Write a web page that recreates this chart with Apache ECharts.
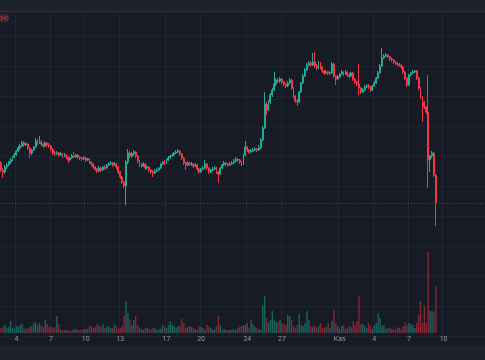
<!DOCTYPE html>
<html>
<head>
<meta charset="utf-8">
<style>
html,body{margin:0;padding:0;background:#171b26;}
#c{width:485px;height:360px;}
</style>
<script src="https://cdn.jsdelivr.net/npm/echarts/dist/echarts.min.js"></script>
</head>
<body>
<div id="c"></div>
<script>
// 4h candles, first candle opens 2022-10-02 16:00
const startTime = Date.UTC(2022, 9, 2, 16);
const slotCount = 252;
const firstOpen = 1292;
const closes = [
1264,1256,1276,1284,1296,1304,1316,1324,1340,1352,
1360,1372,1364,1368,1352,1332,1344,1356,1380,1372,
1376,1368,1360,1372,1364,1360,1348,1332,1328,1332,
1324,1328,1320,1324,1316,1304,1312,1320,1316,1324,
1316,1312,1308,1312,1304,1308,1296,1288,1276,1268,
1260,1272,1264,1276,1272,1284,1288,1292,1284,1288,
1276,1256,1236,1216,1200,1296,1332,1320,1328,1336,
1320,1300,1284,1280,1288,1272,1276,1264,1256,1252,
1260,1264,1272,1288,1296,1292,1304,1312,1320,1324,
1332,1336,1340,1328,1312,1292,1284,1292,1288,1288,
1280,1284,1268,1256,1268,1272,1288,1272,1256,1264,
1268,1272,1256,1248,1272,1284,1292,1288,1284,1288,
1292,1300,1308,1304,1296,1288,1324,1356,1344,1336,
1340,1344,1348,1344,1352,1384,1432,1528,1504,1536,
1564,1584,1608,1624,1620,1628,1616,1608,1600,1612,
1624,1592,1560,1540,1536,1576,1612,1640,1664,1684,
1692,1684,1696,1680,1672,1692,1676,1660,1652,1656,
1652,1652,1688,1640,1628,1636,1648,1656,1648,1656,
1644,1640,1652,1628,1616,1608,1592,1576,1584,1596,
1600,1596,1584,1600,1612,1632,1652,1680,1712,1720,
1724,1716,1708,1704,1696,1692,1688,1684,1676,1656,
1632,1604,1644,1652,1656,1660,1632,1592,1556,1536,
1516,1496,1304,1320,1332,1244,1132
];
const highs = [
1300,1272,1284,1292,1300,1312,1320,1332,1344,1360,
1368,1380,1380,1376,1372,1356,1348,1360,1392,1388,
1400,1384,1372,1380,1376,1372,1364,1352,1340,1340,
1336,1336,1332,1332,1328,1320,1316,1328,1336,1328,
1328,1320,1316,1320,1316,1312,1312,1300,1292,1280,
1272,1280,1276,1280,1284,1288,1296,1300,1296,1296,
1292,1280,1260,1240,1220,1304,1348,1340,1336,1344,
1340,1324,1304,1292,1296,1292,1284,1280,1268,1264,
1268,1272,1276,1292,1300,1304,1308,1320,1324,1332,
1336,1344,1348,1344,1332,1316,1296,1300,1296,1296,
1292,1292,1288,1272,1272,1280,1304,1292,1276,1268,
1276,1280,1276,1260,1276,1288,1300,1296,1292,1296,
1300,1308,1316,1312,1308,1300,1328,1380,1360,1348,
1348,1352,1356,1352,1364,1392,1440,1576,1536,1544,
1572,1592,1656,1632,1632,1636,1632,1620,1612,1620,
1632,1628,1596,1564,1548,1580,1616,1648,1672,1692,
1700,1700,1732,1736,1688,1700,1696,1680,1664,1664,
1660,1660,1696,1692,1644,1644,1652,1664,1660,1664,
1660,1652,1656,1656,1632,1620,1688,1596,1592,1604,
1608,1608,1600,1604,1620,1636,1660,1688,1752,1728,
1732,1728,1720,1712,1708,1700,1696,1692,1688,1680,
1660,1636,1648,1656,1664,1664,1664,1636,1596,1560,
1540,1520,1644,1324,1340,1336,1248
];
const lows = [
1256,1232,1248,1268,1280,1288,1300,1312,1320,1336,
1344,1356,1356,1360,1344,1312,1324,1340,1352,1364,
1368,1360,1352,1356,1356,1352,1340,1324,1320,1324,
1316,1320,1312,1316,1308,1292,1300,1308,1312,1312,
1308,1304,1300,1304,1296,1300,1288,1280,1268,1260,
1252,1256,1256,1260,1264,1268,1280,1284,1276,1280,
1268,1248,1228,1208,1192,1124,1288,1312,1312,1320,
1312,1292,1276,1272,1276,1264,1268,1256,1248,1236,
1248,1256,1260,1268,1284,1284,1288,1300,1308,1316,
1320,1328,1332,1320,1304,1284,1264,1280,1280,1280,
1272,1276,1260,1248,1252,1264,1268,1264,1248,1252,
1260,1264,1248,1212,1244,1268,1280,1280,1276,1280,
1284,1288,1296,1296,1288,1280,1284,1320,1336,1328,
1332,1336,1340,1336,1340,1348,1380,1428,1484,1500,
1528,1556,1580,1600,1612,1612,1608,1600,1592,1596,
1608,1584,1552,1532,1520,1532,1572,1608,1636,1660,
1680,1676,1680,1672,1664,1668,1668,1652,1644,1648,
1644,1644,1648,1632,1604,1624,1632,1644,1640,1644,
1636,1632,1636,1620,1608,1600,1564,1568,1572,1580,
1592,1588,1576,1580,1596,1608,1628,1648,1676,1708,
1716,1712,1700,1696,1688,1684,1680,1676,1668,1648,
1624,1596,1600,1640,1648,1652,1624,1584,1548,1456,
1508,1488,1192,1256,1312,1236,1040
];
const volumes = [
5,6,8,5,6,12,5,4,7,6,
8,9,5,4,5,6,7,10,11,8,
10,7,6,13,9,6,7,5,6,17,
9,3,3,3,3,3,2,3,4,4,
3,3,3,4,4,4,7,7,5,6,
9,7,6,9,5,6,7,5,5,9,
6,4,5,7,17,32,20,13,8,13,
17,8,5,4,3,5,5,4,4,5,
5,3,4,4,8,6,5,8,12,8,
7,5,7,7,14,10,5,6,7,6,
5,4,3,7,6,5,3,8,6,5,
3,4,7,17,8,3,4,3,3,3,
3,4,3,5,6,7,8,8,10,5,
13,9,6,5,4,3,27,37,15,10,
13,22,13,11,11,13,10,9,8,18,
17,13,7,5,8,19,8,7,10,22,
13,7,6,7,5,7,10,5,5,6,
10,5,12,23,10,7,4,7,8,4,
5,7,6,12,8,12,37,9,9,7,
5,10,7,4,8,10,20,15,7,8,
4,5,5,4,4,3,6,5,4,7,
11,8,10,9,8,5,10,18,32,10,
27,10,81,22,22,21,47
];
const tickDates = ['2022-10-04','2022-10-07','2022-10-10','2022-10-13','2022-10-17','2022-10-20','2022-10-24','2022-10-27','2022-11-01','2022-11-04','2022-11-07','2022-11-10'];
const tickLabels = ['4','7','10','13','17','20','24','27','Kas','4','7','10'];

function pad(n){return n<10?'0'+n:''+n;}
const categories = [];
for (let i = 0; i < slotCount; i++) {
  const d = new Date(startTime + i * 4 * 3600 * 1000);
  categories.push(d.getUTCFullYear()+'-'+pad(d.getUTCMonth()+1)+'-'+pad(d.getUTCDate())+' '+pad(d.getUTCHours())+':00');
}
const tickMap = {};
tickDates.forEach((d, k) => { tickMap[d + ' 00:00'] = tickLabels[k]; });
const isTick = (idx, val) => tickMap[val] !== undefined;

const opens = closes.map((c, i) => i === 0 ? firstOpen : closes[i - 1]);
const candleData = closes.map((c, i) => [opens[i], c, lows[i], highs[i]]);
const UP = '#22ab94', DOWN = '#f23645';
const volData = volumes.map((v, i) => ({
  value: v,
  itemStyle: { color: closes[i] >= opens[i] ? 'rgba(34,171,148,0.5)' : 'rgba(242,54,69,0.5)' }
}));

const chart = echarts.init(document.getElementById('c'), null, {renderer: 'canvas'});
chart.setOption({
  animation: false,
  backgroundColor: '#171b26',
  grid: [
    {left: 0, right: 0, top: 12, bottom: 24},
    {left: 0, right: 0, top: 245, bottom: 27}
  ],
  xAxis: [
    {
      type: 'category', gridIndex: 0, data: categories, boundaryGap: true,
      axisLine: {show: false}, axisTick: {show: false}, axisLabel: {show: false},
      splitLine: {show: true, interval: isTick, lineStyle: {color: '#21252f', width: 1}}
    },
    {
      type: 'category', gridIndex: 1, data: categories, boundaryGap: true,
      axisLine: {show: false}, axisTick: {show: false},
      splitLine: {show: false},
      axisLabel: {
        show: true, interval: isTick, margin: 3,
        formatter: (val) => tickMap[val] || '',
        color: '#9598a1', fontSize: 7, fontFamily: 'Roboto, sans-serif'
      }
    }
  ],
  yAxis: [
    {
      type: 'value', gridIndex: 0, min: 600, max: 1896, interval: 120,
      axisLine: {show: false}, axisTick: {show: false}, axisLabel: {show: false},
      splitLine: {show: true, lineStyle: {color: '#1f232e', width: 1}}
    },
    {
      type: 'value', gridIndex: 1, min: 0, max: 88,
      axisLine: {show: false}, axisTick: {show: false}, axisLabel: {show: false},
      splitLine: {show: false}
    }
  ],
  series: [
    {
      type: 'bar', xAxisIndex: 1, yAxisIndex: 1, data: volData,
      barWidth: '72%', silent: true, z: 1
    },
    {
      type: 'candlestick', xAxisIndex: 0, yAxisIndex: 0, data: candleData,
      barWidth: '72%', silent: true, z: 3,
      itemStyle: {color: UP, color0: DOWN, borderColor: UP, borderColor0: DOWN, borderWidth: 1},
      markLine: {
        silent: true, symbol: ['none', 'none'],
        label: {show: false},
        lineStyle: {color: 'rgba(242,54,69,0.55)', type: [1, 2], width: 1},
        data: [{yAxis: closes[closes.length - 1]}]
      }
    }
  ],
  graphic: [
    {type: 'rect', shape: {x: 0, y: 0, width: 485, height: 11}, style: {fill: '#1e222d'}, silent: true, z: 10},
    {type: 'line', shape: {x1: 0, y1: 11.5, x2: 485, y2: 11.5}, style: {stroke: '#2a2e39', lineWidth: 1}, silent: true, z: 10},
    {type: 'rect', shape: {x: 0, y: 345, width: 485, height: 15}, style: {fill: '#1e222d'}, silent: true, z: 10},
    {type: 'rect', shape: {x: 0, y: 14, width: 8, height: 8, r: 1}, style: {fill: 'rgba(242,54,69,0.22)'}, silent: true, z: 10},
    {type: 'text', x: 0, y: 15, style: {text: '24)', fill: '#c2404a', fontSize: 6, fontFamily: 'Roboto, sans-serif'}, silent: true, z: 11}
  ]
});
</script>
</body>
</html>
